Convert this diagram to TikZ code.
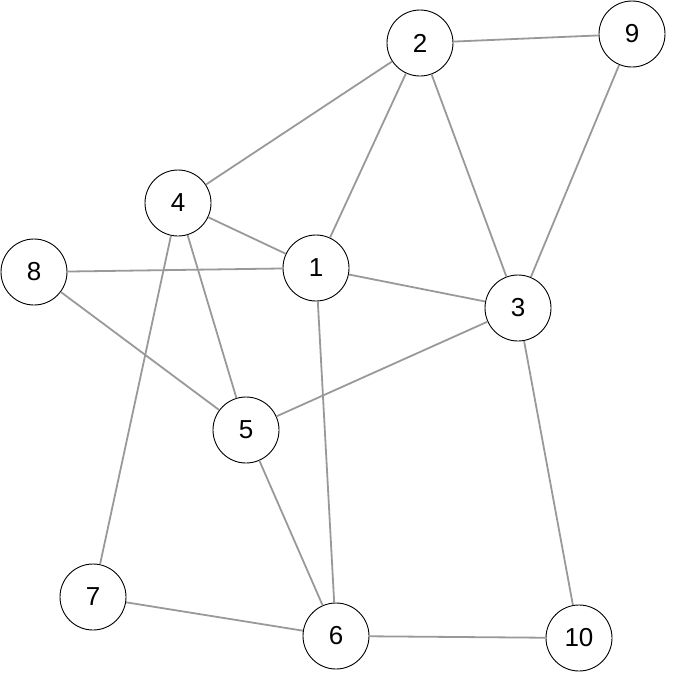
\documentclass[tikz,border=0pt]{standalone}
\usepackage{fontspec}
\setmainfont{Liberation Sans}
\begin{document}
\begin{tikzpicture}[x=1pt,y=-1pt,
  vtx/.style={circle,draw=black,line width=0.9pt,fill=white,minimum size=66pt,inner sep=0pt,font=\fontsize{26}{26}\selectfont},
  edge/.style={draw=black!40,line width=1.8pt}]
\useasboundingbox (0,0) rectangle (673,673);
\node[vtx] (n2) at (420,43) {2};
\node[vtx] (n9) at (632,34) {9};
\node[vtx] (n4) at (178,203) {4};
\node[vtx] (n8) at (34,272) {8};
\node[vtx] (n1) at (316,268) {1};
\node[vtx] (n3) at (518,308) {3};
\node[vtx] (n5) at (246,430) {5};
\node[vtx] (n7) at (93,597) {7};
\node[vtx] (n6) at (336,636) {6};
\node[vtx] (n10) at (579,638) {10};
\foreach \a/\b in {n2/n9,n2/n4,n2/n1,n2/n3,n9/n3,n4/n1,n4/n5,n4/n7,n8/n1,n8/n5,n1/n3,n1/n6,n3/n5,n3/n10,n5/n6,n7/n6,n6/n10}
  \draw[edge] (\a) -- (\b);
\end{tikzpicture}
\end{document}
